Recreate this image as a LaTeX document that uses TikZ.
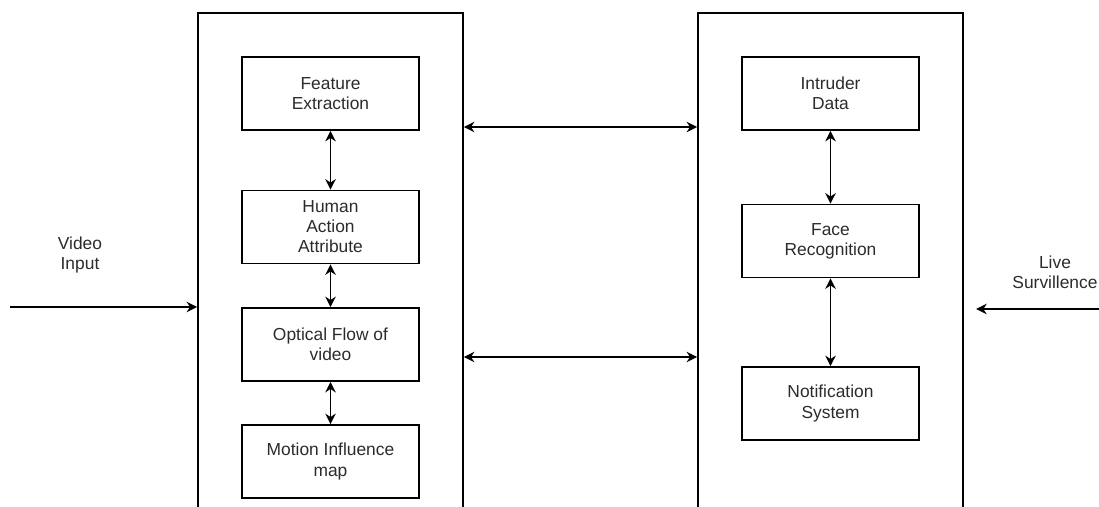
\documentclass[tikz,border=0pt]{standalone}
\usepackage{fontspec}
\setmainfont{Liberation Sans}
\usetikzlibrary{arrows.meta}
\definecolor{ink}{HTML}{2B2B2B}
\tikzset{
  frame/.style={draw,line width=1pt,minimum width=5.3cm,minimum height=11cm,inner sep=0pt},
  unit/.style={draw,line width=0.95pt,minimum width=3.54cm,minimum height=1.46cm,inner sep=0pt,
    align=center,text=ink,font=\fontsize{9.9}{11.4}\selectfont},
  lbl/.style={align=center,text=ink,font=\fontsize{9.9}{11.4}\selectfont},
  link/.style={{Stealth[length=6pt,width=6pt]}-{Stealth[length=6pt,width=6pt]},line width=0.9pt},
  feed/.style={-{Stealth[length=6pt,width=6pt]},line width=0.9pt}
}
\begin{document}
\begin{tikzpicture}[x=0.02cm,y=-0.02cm]
\useasboundingbox (0,0) rectangle (1099,507);
\clip (0,0) rectangle (1099,507);
% outer blocks
\node[frame] (proc) at (330.5,288){};
\node[frame] (surv) at (830.5,288){};
% left block
\node[unit] (feat) at (330.5,93.5){Feature\\Extraction};
\node[unit] (human) at (330.5,227){Human\\Action\\Attribute};
\node[unit] (flow) at (330.5,344.5){Optical Flow of\\video};
\node[unit] (motion) at (330.5,461.5){Motion Influence\\map};
\draw[link] (feat) -- (human); \draw[link] (human) -- (flow); \draw[link] (flow) -- (motion);
% right block
\node[unit] (intruder) at (830.5,93.5){Intruder\\Data};
\node[unit] (face) at (830.5,241){Face\\Recognition};
\node[unit] (notify) at (830.5,403.5){Notification\\System};
\draw[link] (intruder) -- (face); \draw[link] (face) -- (notify);
% between blocks
\coordinate (up) at (580,127); \coordinate (down) at (580,357);
\draw[link] (proc.east |- up) -- (surv.west |- up);
\draw[link] (proc.east |- down) -- (surv.west |- down);
% inputs
\coordinate (vin) at (10,307); \coordinate (lin) at (1099,309);
\node[lbl] (vlbl) at (80,255){Video\\Input};
\node[lbl] (llbl) at (1055,272){Live\\Survillence};
\draw[feed] (vin) -- (proc.west |- vin);
\draw[feed,shorten >=7pt] (lin) -- (surv.east |- lin);
\end{tikzpicture}
\end{document}
